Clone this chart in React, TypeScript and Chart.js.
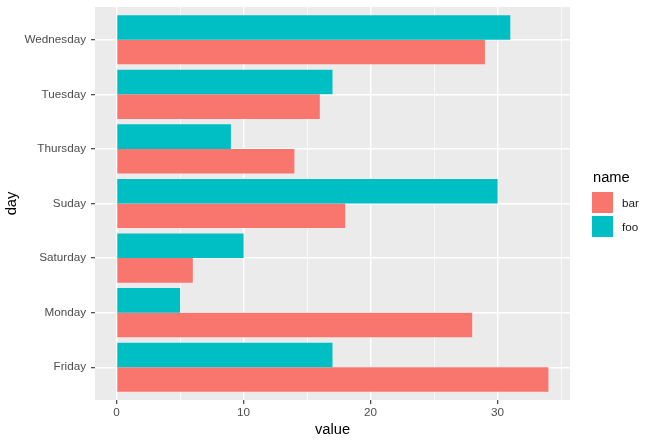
import React, { useEffect, useRef } from "react";
import { Chart, registerables } from "chart.js";

Chart.register(...registerables);

const days = ["Wednesday", "Tuesday", "Thursday", "Suday", "Saturday", "Monday", "Friday"];
const fooValues = [31, 17, 9, 30, 10, 5, 17];
const barValues = [29, 16, 14, 18, 6, 28, 34];
const xGridTicks = [0, 5, 10, 15, 20, 25, 30, 35];
const xLabelTicks = [0, 10, 20, 30];
const legendNames = ["bar", "foo"];
const legendColors = ["#F8766D", "#00BFC4"];

const FONT = "'Liberation Sans', Arial, sans-serif";

const panelBg = {
  id: "panelBg",
  beforeDraw(chart: any) {
    const { ctx, chartArea } = chart;
    ctx.save();
    ctx.fillStyle = "#EBEBEB";
    ctx.fillRect(chartArea.left, chartArea.top, chartArea.right - chartArea.left, chartArea.bottom - chartArea.top);
    ctx.restore();
  },
};

export default function App() {
  const ref = useRef<HTMLCanvasElement | null>(null);

  useEffect(() => {
    if (!ref.current) return;
    const chart = new Chart(ref.current, {
      type: "bar",
      data: {
        datasets: [
          {
            label: "foo",
            data: fooValues.map((v, i) => ({ x: v, y: i })),
            backgroundColor: "#00BFC4",
            borderWidth: 0,
          },
          {
            label: "bar",
            data: barValues.map((v, i) => ({ x: v, y: i })),
            backgroundColor: "#F8766D",
            borderWidth: 0,
          },
        ],
      },
      options: {
        indexAxis: "y",
        animation: false,
        responsive: false,
        layout: { padding: { top: 7, right: 85, left: 0, bottom: 0 } },
        plugins: { legend: { display: false }, tooltip: { enabled: false } },
        datasets: { bar: { categoryPercentage: 0.9, barPercentage: 1 } },
        scales: {
          x: {
            type: "linear",
            min: -1.7,
            max: 35.7,
            offset: false,
            afterBuildTicks: (s: any) => {
              s.ticks = xGridTicks.map((v) => ({ value: v }));
            },
            afterFit: (s: any) => {
              s.height = 45;
              s.paddingLeft = 0;
              s.paddingRight = 0;
            },
            border: { display: false },
            grid: {
              offset: false,
              color: "#FFFFFF",
              lineWidth: (c: any) => (xLabelTicks.includes(c.tick?.value) ? 1.4 : 0.7),
              tickColor: (c: any) => (xLabelTicks.includes(c.tick?.value) ? "#333333" : "rgba(0,0,0,0)"),
              tickLength: 4,
              tickWidth: 1.1,
            },
            ticks: {
              autoSkip: false,
              maxRotation: 0,
              padding: 2,
              color: "#4D4D4D",
              font: { family: FONT, size: 11.7 },
              callback: (v: any) => (xLabelTicks.includes(v) ? String(v) : ""),
            },
            title: {
              display: true,
              text: "value",
              color: "#000000",
              font: { family: FONT, size: 14.7 },
              padding: { top: 0, bottom: 6 },
            },
          },
          y: {
            type: "linear",
            reverse: true,
            min: -0.6,
            max: 6.6,
            offset: false,
            afterBuildTicks: (s: any) => {
              s.ticks = days.map((_, i) => ({ value: i }));
            },
            afterFit: (s: any) => {
              s.width = 95;
              s.paddingTop = 0;
              s.paddingBottom = 0;
            },
            border: { display: false },
            grid: {
              offset: false,
              color: "#FFFFFF",
              lineWidth: 1.4,
              tickColor: "#333333",
              tickLength: 4,
              tickWidth: 1.1,
            },
            ticks: {
              autoSkip: false,
              padding: 5,
              color: "#4D4D4D",
              font: { family: FONT, size: 11.7 },
              callback: (v: any) => days[v] ?? "",
            },
            title: {
              display: true,
              text: "day",
              color: "#000000",
              font: { family: FONT, size: 14.7 },
              padding: { top: 3, bottom: 0 },
            },
          },
        },
      } as any,
      plugins: [panelBg],
    });
    return () => chart.destroy();
  }, []);

  return (
    <div style={{ position: "absolute", left: 0, top: 0, width: 655, height: 445, background: "#fff" }}>
      <canvas ref={ref} width={655} height={445} style={{ position: "absolute", left: 0, top: 0 }} />
      <div
        style={{
          position: "absolute",
          left: 593,
          top: 168,
          fontFamily: FONT,
          fontSize: 14.7,
          lineHeight: "18px",
          color: "#000",
        }}
      >
        name
      </div>
      {legendNames.map((n, i) => (
        <React.Fragment key={n}>
          <div
            style={{
              position: "absolute",
              left: 592,
              top: 192 + i * 23.5,
              width: 21,
              height: 21,
              background: legendColors[i],
            }}
          />
          <div
            style={{
              position: "absolute",
              left: 622,
              top: 194 + i * 23.5,
              fontFamily: FONT,
              fontSize: 11.7,
              lineHeight: "18px",
              color: "#1A1A1A",
            }}
          >
            {n}
          </div>
        </React.Fragment>
      ))}
    </div>
  );
}
